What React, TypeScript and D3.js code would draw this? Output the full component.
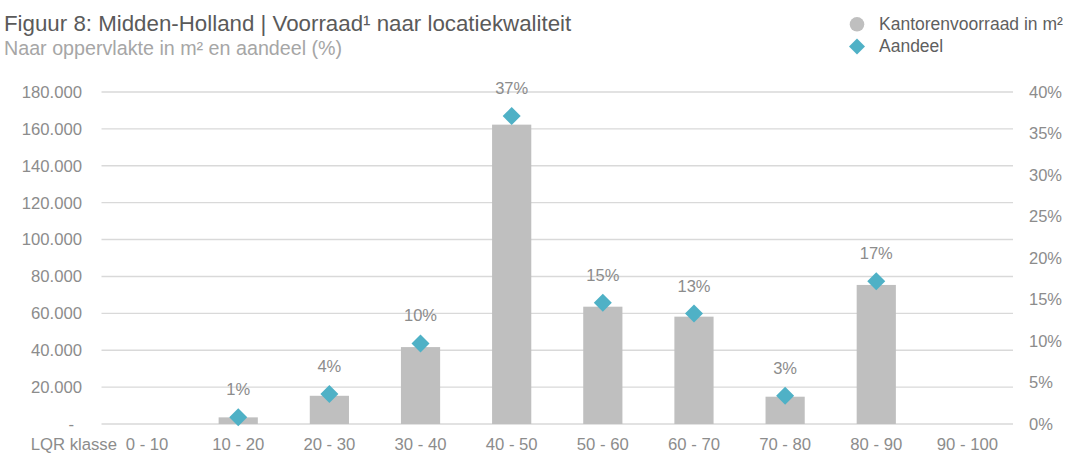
import React from "react";
import * as d3 from "d3";

const categories = ["0 - 10", "10 - 20", "20 - 30", "30 - 40", "40 - 50", "50 - 60", "60 - 70", "70 - 80", "80 - 90", "90 - 100"];
const voorraad = [0, 3600, 15300, 41700, 162300, 63600, 58200, 14800, 75400, 0];
const aandeel: (number | null)[] = [null, 0.8, 3.6, 9.7, 37.1, 14.6, 13.3, 3.4, 17.2, null];
const leftTicks = [0, 20000, 40000, 60000, 80000, 100000, 120000, 140000, 160000, 180000];
const rightTicks = [0, 5, 10, 15, 20, 25, 30, 35, 40];

const W = 1065;
const H = 454;
const FONT = "'Liberation Sans', Arial, Helvetica, sans-serif";

export default function App() {
  const x = d3.scaleBand<string>().domain(categories).range([101.5, 1013]).paddingInner(0.57).paddingOuter(0.285);
  const yL = d3.scaleLinear().domain([0, 180000]).range([424, 92]);
  const yR = d3.scaleLinear().domain([0, 40]).range([424, 92]);
  const fmtL = (v: number) => (v === 0 ? "-" : d3.format(",")(v).replace(/,/g, "."));
  const diamond = (cx: number, cy: number, r: number) => `M${cx},${cy - r}L${cx + r},${cy}L${cx},${cy + r}L${cx - r},${cy}Z`;
  const axisColor = "#8c8c8c";

  return (
    <svg width={W} height={H} style={{ position: "absolute", left: 0, top: 0 }} fontFamily={FONT}>
      <rect width={W} height={H} fill="#ffffff" />
      <text x={4} y={31} fontSize={22.3} fill="#5a5a5a">Figuur 8: Midden-Holland | Voorraad¹ naar locatiekwaliteit</text>
      <text x={4} y={55} fontSize={19.7} fill="#a6a6a6">Naar oppervlakte in m² en aandeel (%)</text>

      {/* legend */}
      <circle cx={857} cy={24.3} r={7.3} fill="#bfbfbf" />
      <text x={879} y={30} fontSize={17.5} fill="#5f5f5f">Kantorenvoorraad in m²</text>
      <path d={diamond(857, 46.5, 8)} fill="#4fb1c6" />
      <text x={879} y={52} fontSize={17.5} fill="#5f5f5f">Aandeel</text>

      {/* gridlines */}
      {leftTicks.map((t) => (
        <line key={t} x1={101.5} x2={1013} y1={yL(t)} y2={yL(t)} stroke="#d9d9d9" strokeWidth={1.4} />
      ))}
      {/* left axis labels */}
      {leftTicks.map((t) => (
        <text key={"l" + t} x={t === 0 ? 74 : 82} y={yL(t)} dy="0.35em" textAnchor="end" fontSize={16.7} fill={axisColor}>
          {fmtL(t)}
        </text>
      ))}
      {/* right axis labels */}
      {rightTicks.map((t) => (
        <text key={"r" + t} x={1029} y={yR(t)} dy="0.35em" fontSize={16.5} fill={axisColor}>
          {t + "%"}
        </text>
      ))}

      {/* bars */}
      {categories.map((c, i) =>
        voorraad[i] > 0 ? (
          <rect key={"b" + c} x={x(c)!} width={x.bandwidth()} y={yL(voorraad[i])} height={yL(0) - yL(voorraad[i])} fill="#bfbfbf" />
        ) : null
      )}

      {/* markers + labels */}
      {categories.map((c, i) => {
        const v = aandeel[i];
        if (v === null) return null;
        const cx = x(c)! + x.bandwidth() / 2;
        const cy = yR(v);
        return (
          <g key={"m" + c}>
            <path d={diamond(cx, cy, 9)} fill="#4fb1c6" />
            <text x={cx} y={cy - 22} textAnchor="middle" fontSize={16.5} fill={axisColor}>
              {Math.round(v) + "%"}
            </text>
          </g>
        );
      })}

      {/* category labels */}
      <text x={117} y={450} textAnchor="end" fontSize={16.7} fill={axisColor}>LQR klasse</text>
      {categories.map((c) => (
        <text key={"c" + c} x={x(c)! + x.bandwidth() / 2} y={450} textAnchor="middle" fontSize={16.7} fill={axisColor}>
          {c}
        </text>
      ))}
    </svg>
  );
}
